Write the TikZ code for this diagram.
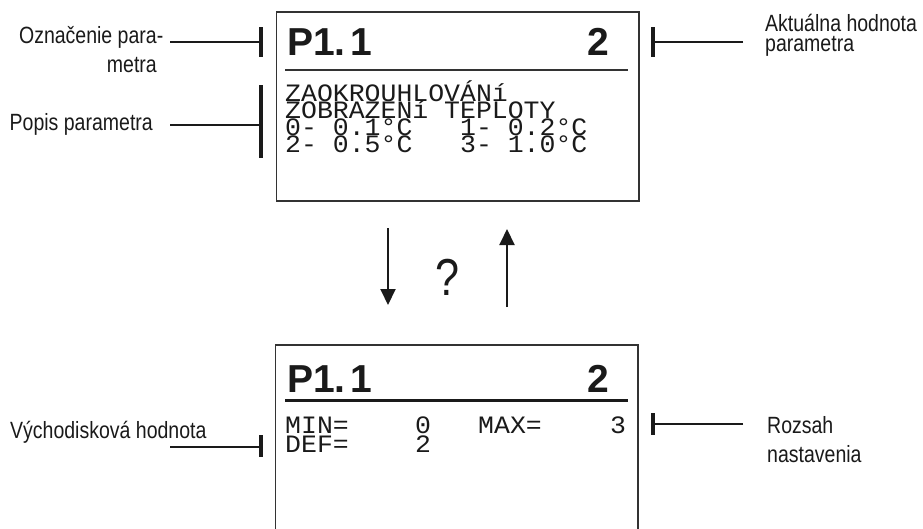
\documentclass[tikz,border=0pt]{standalone}
\usepackage{fontspec}
\setmainfont{Liberation Sans}[FakeStretch=0.83]
\newfontfamily\hdrfont{Liberation Sans}
\newfontfamily\lcdfont{Liberation Mono}[FakeStretch=1.06]
\usetikzlibrary{arrows.meta}
\definecolor{ink}{HTML}{1A1A1A}
\definecolor{frame}{HTML}{333333}
\begin{document}
\begin{tikzpicture}[x=1pt,y=-1pt,inner sep=0pt,
  lbl/.style={font=\fontsize{23.5}{29}\selectfont, text=ink, inner sep=0pt},
  lcd/.style={font=\lcdfont\fontsize{25}{17}\selectfont, text=ink, anchor=base west},
  hdr/.style={font=\hdrfont\bfseries\fontsize{39}{39}\selectfont, text=ink, anchor=base west},
  conn/.style={line width=2pt, draw=ink},
  barline/.style={line width=3.5pt, draw=ink},
  screen/.style={line width=1.5pt, draw=frame},
  flow/.style={line width=2pt, draw=ink, -{Triangle[width=15pt,length=16pt]}}]
\useasboundingbox (0,0) rectangle (923,528);

% top screen
\node[screen, rectangle, minimum width=362.5pt, minimum height=189pt, anchor=north west] (scrA) at (275.5,11) {};
\node[hdr] (pA) at (287,55) {P1.\kern5pt1};
\node[hdr, anchor=base east] (vA) at (609,55) {2};
\draw[line width=2pt, draw=frame] (285,70) -- (628,70);
\node[lcd] (dA1) at (285,101) {ZAOKROUHLOVÁNí};
\node[lcd] (dA2) at (285,118) {ZOBRAZENí TEPLOTY};
\node[lcd] (dA3) at (285,135) {0-~0.1°C~~~1-~0.2°C};
\node[lcd] (dA4) at (285,152) {2-~0.5°C~~~3-~1.0°C};

% bottom screen (open at the bottom)
\draw[screen] (275.5,535) -- (275.5,345) -- (638,345) -- (638,535);
\node[hdr] (pB) at (287,392) {P1.\kern5pt1};
\node[hdr, anchor=base east] (vB) at (609,392) {2};
\draw[line width=3pt, draw=ink] (285,400) -- (628,400);
\node[lcd] (minL) at (285,433) {MIN=};
\node[lcd] (minV) at (415,433) {0};
\node[lcd] (maxL) at (478,433) {MAX=};
\node[lcd] (maxV) at (610,433) {3};
\node[lcd] (defL) at (285,452) {DEF=};
\node[lcd] (defV) at (415,452) {2};

% labels (multi-line nodes: base anchor is the last line's baseline)
\node[lbl, align=right, anchor=base east] (l1) at (157,72) {Označenie para\rlap{-}\\metra};
\node[lbl, anchor=base east] (l2) at (153,130) {Popis parametra};
\node[lbl, anchor=base west] (l3) at (10,438) {Východisková hodnota};
\node[lbl, align=left, anchor=base west, font=\fontsize{23.5}{20}\selectfont] (l4) at (765,51) {Aktuálna hodnota\\parametra};
\node[lbl, align=left, anchor=base west] (l5) at (767,462) {Rozsah\\nastavenia};

% connectors with bars
\coordinate (c1a) at (170,42);  \coordinate (c1b) at (261,42);
\coordinate (c2a) at (170,125); \coordinate (c2b) at (261,125);
\coordinate (c3a) at (170,447); \coordinate (c3b) at (261,447);
\coordinate (c4a) at (743,42);  \coordinate (c4b) at (653,42);
\coordinate (c5a) at (743,424); \coordinate (c5b) at (653,424);
\draw[conn] (c1a) -- (c1b);
\draw[barline] ([yshift=15pt]c1b) -- ([yshift=-15pt]c1b);
\draw[conn] (c2a) -- (c2b);
\draw[barline] ([yshift=40pt]c2b) -- ([yshift=-33pt]c2b);
\draw[conn] (c3a) -- (c3b);
\draw[barline] ([yshift=12pt]c3b) -- ([yshift=-10pt]c3b);
\draw[conn] (c4a) -- (c4b);
\draw[barline] ([yshift=15pt]c4b) -- ([yshift=-15pt]c4b);
\draw[conn] (c5a) -- (c5b);
\draw[barline] ([yshift=11pt]c5b) -- ([yshift=-11pt]c5b);

% arrows and question mark
\coordinate (d1) at (388,228); \coordinate (d2) at (388,305);
\coordinate (u1) at (507,307); \coordinate (u2) at (507,229);
\draw[flow] (d1) -- (d2);
\draw[flow] (u1) -- (u2);
\node[font=\fontsize{52}{52}\selectfont, text=ink] (q) at (447,277) {?};
\end{tikzpicture}
\end{document}
